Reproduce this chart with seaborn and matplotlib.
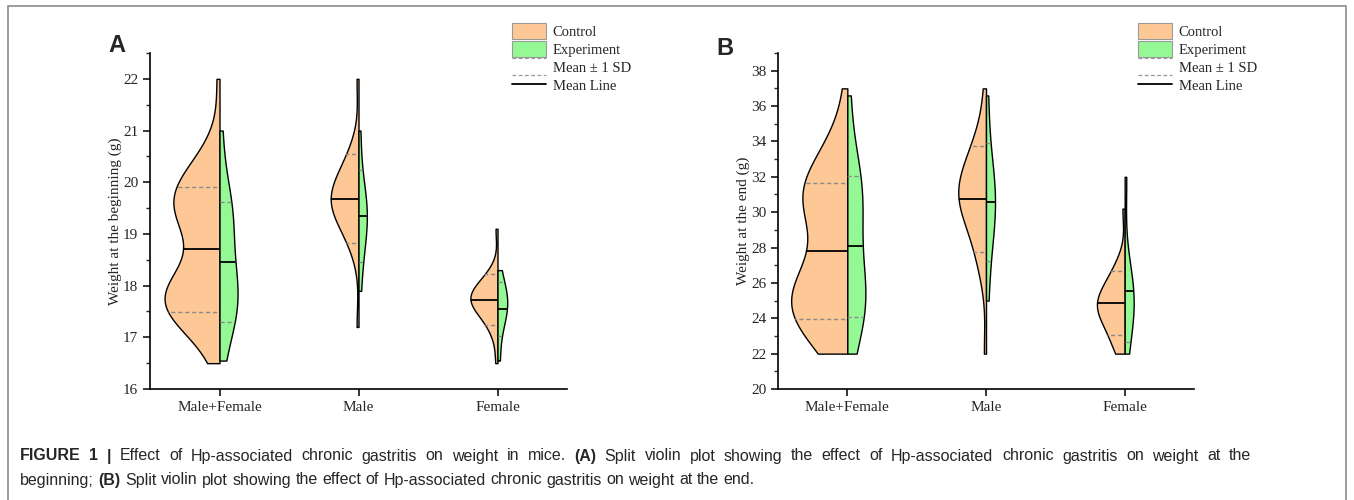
import numpy as np
import pandas as pd
import seaborn as sns
import matplotlib.pyplot as plt
from matplotlib.patches import Patch, Rectangle
from matplotlib.lines import Line2D
from matplotlib.legend_handler import HandlerBase

groups = ["Male+Female", "Male", "Female"]
treatments = ["Control", "Experiment"]

# weight at the beginning (g)
begin_ctrl_male = [17.2, 18.7, 18.9, 19.0, 19.2, 19.3, 19.4, 19.5, 19.5, 19.6, 19.6, 19.7,
                   19.7, 19.7, 19.8, 19.8, 19.9, 20.0, 20.1, 20.3, 20.4, 20.4, 20.7, 22.0]
begin_ctrl_female = [16.5, 17.0, 17.2, 17.3, 17.4, 17.5, 17.5, 17.6, 17.6, 17.7, 17.7, 17.7,
                     17.8, 17.8, 17.8, 17.8, 17.9, 17.9, 18.0, 18.0, 18.1, 18.2, 18.3, 19.1]
begin_exp_male = [17.9, 18.7, 19.1, 19.3, 19.4, 19.6, 19.8, 21.0]
begin_exp_female = [16.55, 17.2, 17.4, 17.6, 17.7, 17.8, 17.9, 18.3]

# weight at the end (g)
end_ctrl_male = [22.0, 26.5, 27.3, 28.0, 28.6, 29.2, 29.7, 30.1, 30.4, 30.6, 30.8, 30.9,
                 31.0, 31.2, 31.4, 31.6, 31.9, 32.2, 32.6, 33.1, 33.6, 33.9, 34.4, 37.0]
end_ctrl_female = [22.0, 22.2, 22.6, 23.0, 23.3, 23.6, 23.9, 24.1, 24.3, 24.5, 24.6, 24.7,
                   24.8, 24.9, 25.0, 25.2, 25.4, 25.6, 25.9, 26.2, 26.4, 26.8, 27.3, 30.2]
end_exp_male = [25.0, 28.4, 29.6, 30.3, 30.9, 31.5, 32.5, 36.6]
end_exp_female = [22.0, 23.8, 24.5, 24.9, 25.3, 25.7, 26.2, 32.0]

palette = {"Control": "#FDC896", "Experiment": "#94F994"}

# half-violin widths (Origin scales each half on its own)
widths_begin = {("Male+Female", "Control"): 0.79, ("Male", "Control"): 0.40,
                ("Female", "Control"): 0.39, ("Male+Female", "Experiment"): 0.26,
                ("Male", "Experiment"): 0.12, ("Female", "Experiment"): 0.14}
widths_end = {("Male+Female", "Control"): 0.81, ("Male", "Control"): 0.40,
              ("Female", "Control"): 0.40, ("Male+Female", "Experiment"): 0.26,
              ("Male", "Experiment"): 0.13, ("Female", "Experiment"): 0.13}

caption_1 = ["FIGURE", "1", "|", "Effect", "of", "Hp-associated", "chronic", "gastritis", "on",
             "weight", "in", "mice.", "(A)", "Split", "violin", "plot", "showing", "the",
             "effect", "of", "Hp-associated", "chronic", "gastritis", "on", "weight", "at", "the"]
caption_2 = ["beginning;", "(B)", "Split", "violin", "plot", "showing", "the", "effect", "of",
             "Hp-associated", "chronic", "gastritis", "on", "weight", "at", "the", "end."]
bold_words = {"FIGURE", "1", "|", "(A)", "(B)"}


def make_df(ctrl_m, ctrl_f, exp_m, exp_f):
    rows = []
    for trt, m, f in [("Control", ctrl_m, ctrl_f), ("Experiment", exp_m, exp_f)]:
        for grp, vals in [("Male+Female", m + f), ("Male", m), ("Female", f)]:
            rows += [(grp, trt, v) for v in vals]
    return pd.DataFrame(rows, columns=["group", "treatment", "weight"])


def draw_panel(ax, df, widths):
    for (grp, trt), w in widths.items():
        sub = df[(df.group == grp) & (df.treatment == trt)]
        sns.violinplot(data=sub, x="group", y="weight", hue="treatment",
                       order=groups, hue_order=treatments, palette=palette,
                       split=True, dodge=True, width=w, cut=0, inner=None,
                       density_norm="width", saturation=1, linewidth=1.0,
                       linecolor="k", legend=False, ax=ax)
        poly = ax.collections[-1]
        path, tr = poly.get_paths()[0], poly.get_transform()
        pos = groups.index(grp)
        xs = [pos - 0.5, pos] if trt == "Control" else [pos, pos + 0.5]
        m, s = np.mean(sub.weight), np.std(sub.weight, ddof=1)
        for yy in (m - s, m + s):
            ln, = ax.plot(xs, [yy, yy], color="#8a8a8a", lw=1.0, ls=(0, (3, 2)))
            ln.set_clip_path(path, tr)
        ln, = ax.plot(xs, [m, m], color="k", lw=1.3)
        ln.set_clip_path(path, tr)


class HandlerSD(HandlerBase):
    def create_artists(self, legend, orig_handle, xdescent, ydescent, width, height,
                       fontsize, trans):
        out = []
        for yy in (height * 1.05, -height * 0.02):
            out.append(Line2D([-xdescent, width - xdescent], [yy - ydescent] * 2,
                              color="#999999", lw=0.9, ls=(0, (3, 2)), transform=trans))
        return out


def justified_line(fig, words, x0, x1, y, size):
    r = fig.canvas.get_renderer()
    texts = [fig.text(0, y, w, fontsize=size, family="Liberation Sans", va="center",
                      fontweight="bold" if w in bold_words else "normal") for w in words]
    wpx = [t.get_window_extent(r).width for t in texts]
    scale = fig.dpi * fig.get_figwidth() / 1354
    gap = ((x1 - x0) * scale - sum(wpx)) / (len(words) - 1)
    x = x0 * scale
    for t, w in zip(texts, wpx):
        t.set_x(x / (fig.dpi * fig.get_figwidth()))
        x += w + gap


sns.set_style("ticks")
plt.rcParams["font.family"] = ["Liberation Serif", "DejaVu Serif"]

fig = plt.figure(figsize=(13.54, 5), dpi=100)
axA = fig.add_axes([150 / 1354, 111 / 500, 417 / 1354, 336 / 500])
axB = fig.add_axes([778 / 1354, 111 / 500, 416 / 1354, 336 / 500])

panels = [
    (axA, make_df(begin_ctrl_male, begin_ctrl_female, begin_exp_male, begin_exp_female),
     widths_begin, (16, 22.5), np.arange(16, 23, 1), np.arange(16, 22.6, 0.5),
     "Weight at the beginning (g)", "A", 108, 52, 512),
    (axB, make_df(end_ctrl_male, end_ctrl_female, end_exp_male, end_exp_female),
     widths_end, (20, 39), np.arange(20, 39, 2), np.arange(20, 39.1, 1),
     "Weight at the end (g)", "B", 716, 55, 1138),
]

handles = [Patch(facecolor=palette["Control"], edgecolor="#9a9a9a", lw=0.8),
           Patch(facecolor=palette["Experiment"], edgecolor="#9a9a9a", lw=0.8),
           "sd",
           Line2D([], [], color="k", lw=1.3)]
labels = ["Control", "Experiment", "Mean \u00b1 1 SD", "Mean Line"]

for ax, df, widths, ylim, major, minor, ylabel, letter, lx, ly, legx in panels:
    draw_panel(ax, df, widths)
    ax.set_xlim(-0.5, 2.5)
    ax.set_ylim(*ylim)
    ax.set_yticks(major)
    ax.set_yticks(minor, minor=True)
    ax.set_xlabel("")
    ax.set_ylabel(ylabel, fontsize=11, labelpad=1)
    ax.tick_params(axis="both", which="major", direction="out", length=5, width=1.1,
                   labelsize=11, color="k")
    ax.tick_params(axis="y", which="minor", direction="out", length=3, width=1.0)
    sns.despine(ax=ax)
    for sp in ("left", "bottom"):
        ax.spines[sp].set_linewidth(1.2)
        ax.spines[sp].set_color("k")
    fig.text(lx / 1354, 1 - ly / 500, letter, fontsize=17, fontweight="bold",
             family="Liberation Sans", va="baseline")
    fig.legend(handles, labels, loc="upper left", bbox_to_anchor=(legx / 1354, 1 - 23 / 500),
               frameon=False, fontsize=10.5, handlelength=2.3, handleheight=1.3,
               labelspacing=0.15, borderpad=0, borderaxespad=0, handletextpad=0.5,
               handler_map={str: HandlerSD()})

justified_line(fig, caption_1, 20, 1251, 1 - 456 / 500, 11.5)
justified_line(fig, caption_2, 20, 755, 1 - 480 / 500, 11.5)

fig.patches.append(Rectangle((8 / 1354, -0.1), 1338 / 1354, 1.1 - 6 / 500, fill=False,
                             edgecolor="#8c8c8c", lw=1.2, transform=fig.transFigure))

fig.savefig("out.png", dpi=100)
